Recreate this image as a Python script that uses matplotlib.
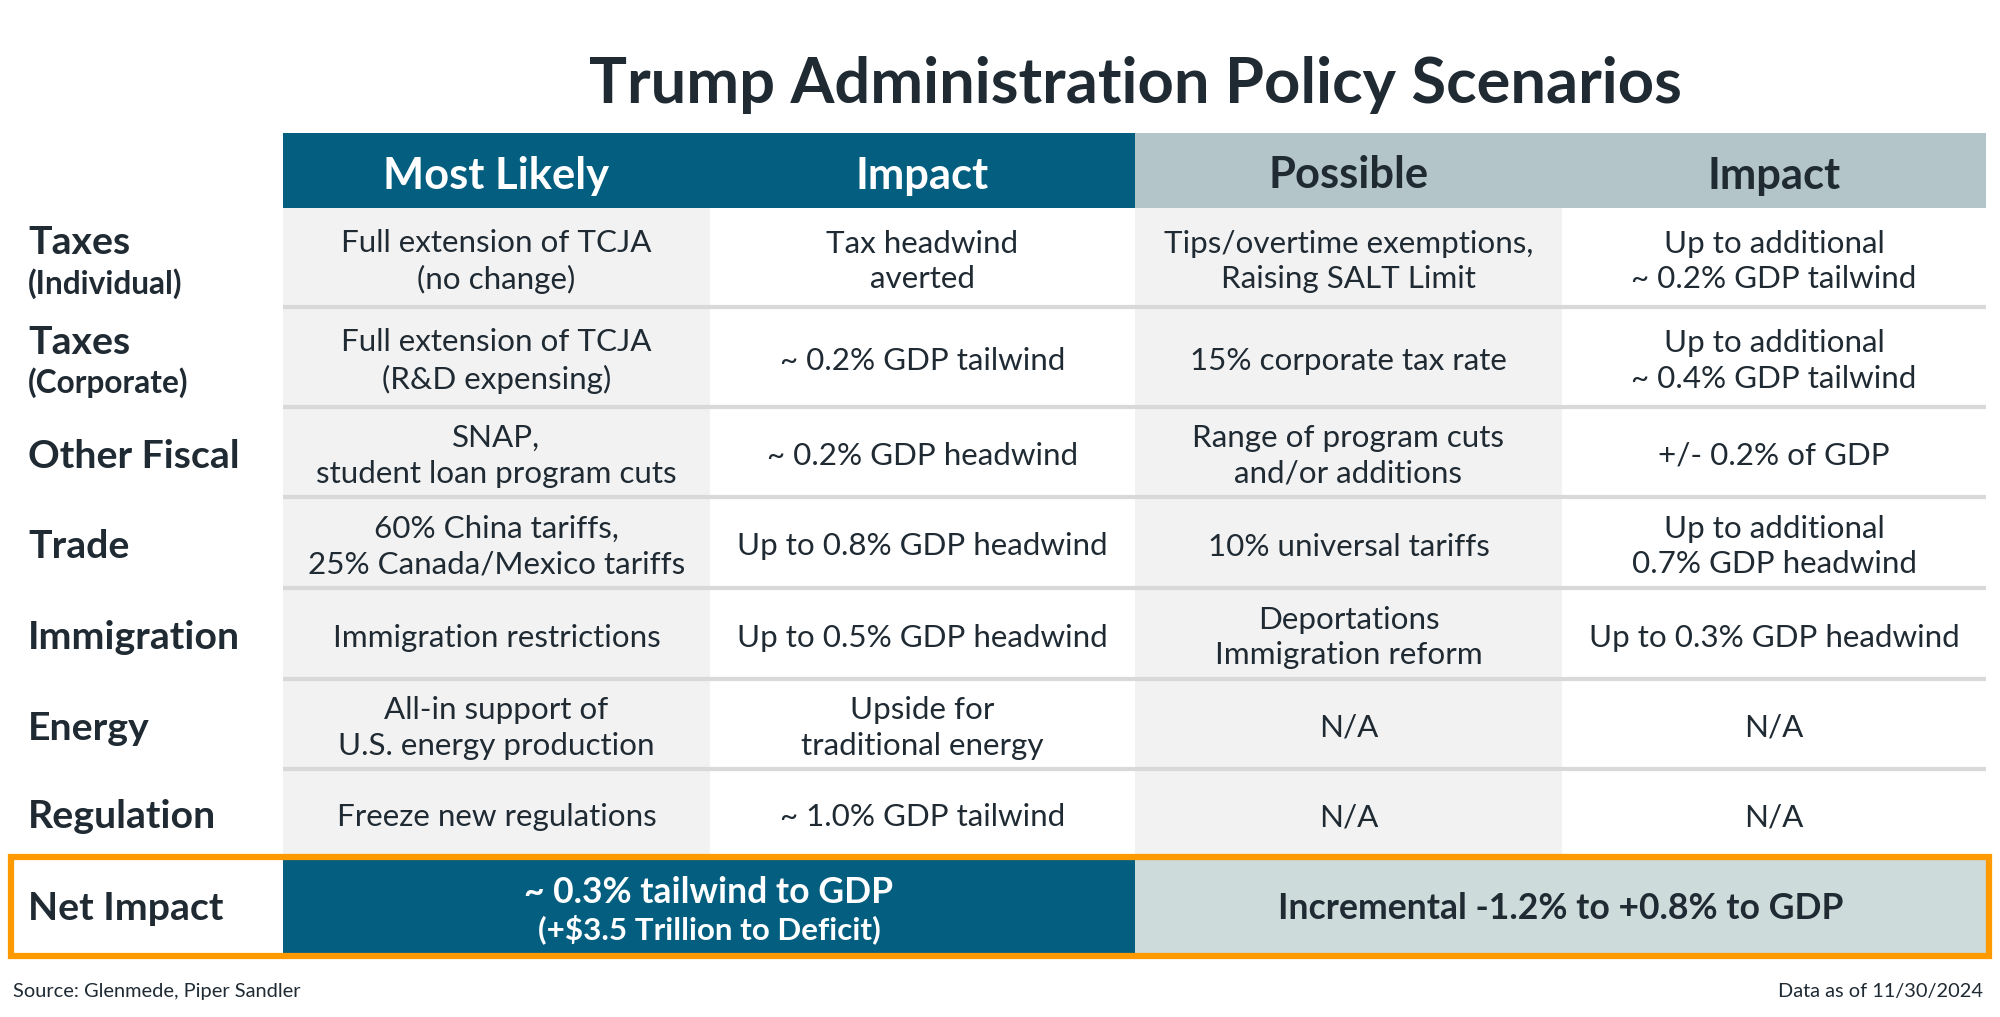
import matplotlib.pyplot as plt
from matplotlib.patches import Rectangle

plt.rcParams['font.family'] = ['Lato', 'DejaVu Sans']

title = "Trump Administration Policy Scenarios"
headers = ["Most Likely", "Impact", "Possible", "Impact"]
row_labels = ["Taxes", "Taxes", "Other Fiscal", "Trade", "Immigration", "Energy", "Regulation"]
row_sublabels = ["(Individual)", "(Corporate)", "", "", "", "", ""]
most_likely = ["Full extension of TCJA\n(no change)",
               "Full extension of TCJA\n(R&D expensing)",
               "SNAP,\nstudent loan program cuts",
               "60% China tariffs,\n25% Canada/Mexico tariffs",
               "Immigration restrictions",
               "All-in support of\nU.S. energy production",
               "Freeze new regulations"]
most_likely_impact = ["Tax headwind\naverted",
                      "~ 0.2% GDP tailwind",
                      "~ 0.2% GDP headwind",
                      "Up to 0.8% GDP headwind",
                      "Up to 0.5% GDP headwind",
                      "Upside for\ntraditional energy",
                      "~ 1.0% GDP tailwind"]
possible = ["Tips/overtime exemptions,\nRaising SALT Limit",
            "15% corporate tax rate",
            "Range of program cuts\nand/or additions",
            "10% universal tariffs",
            "Deportations\nImmigration reform",
            "N/A",
            "N/A"]
possible_impact = ["Up to additional\n~ 0.2% GDP tailwind",
                   "Up to additional\n~ 0.4% GDP tailwind",
                   "+/- 0.2% of GDP",
                   "Up to additional\n0.7% GDP headwind",
                   "Up to 0.3% GDP headwind",
                   "N/A",
                   "N/A"]
net_label = "Net Impact"
net_likely = ["~ 0.3% tailwind to GDP", "(+$3.5 Trillion to Deficit)"]
net_possible = "Incremental -1.2% to +0.8% to GDP"
source = "Source: Glenmede, Piper Sandler"
date_note = "Data as of 11/30/2024"

NAVY = "#045e80"
HEAD_GRAY = "#b4c5c9"
NET_GRAY = "#cddbdb"
CELL_GRAY = "#f2f2f2"
SEP = "#d9d9d9"
DARK = "#1f2a33"
ORANGE = "#ff9900"

fig = plt.figure(figsize=(20, 10.17), dpi=100)
ax = fig.add_axes([0, 0, 1, 1])
ax.set_xlim(0, 2000)
ax.set_ylim(1017, 0)
ax.axis("off")

col_x = [283, 710, 1135, 1562, 1986]
head_top, head_bot = 133, 208
row_y = [208, 307, 407, 497, 588, 679, 769, 857]
net_top, net_bot = 857, 954

ax.text(1135, 85, title, ha="center", va="center", fontsize=45.5,
        fontweight="bold", color=DARK)

# header
for i, h in enumerate(headers):
    fc = NAVY if i < 2 else HEAD_GRAY
    tc = "white" if i < 2 else DARK
    ax.add_patch(Rectangle((col_x[i], head_top), col_x[i + 1] - col_x[i],
                           head_bot - head_top, fc=fc, ec="none"))
    ax.text((col_x[i] + col_x[i + 1]) / 2, (head_top + head_bot) / 2 + 5, h,
            ha="center", va="center", fontsize=31.3, fontweight="bold", color=tc)

# body
columns = [most_likely, most_likely_impact, possible, possible_impact]
for r in range(len(row_labels)):
    y0, y1 = row_y[r], row_y[r + 1]
    yc = (y0 + y1) / 2
    for c, col in enumerate(columns):
        fc = CELL_GRAY if c % 2 == 0 else "white"
        ax.add_patch(Rectangle((col_x[c], y0), col_x[c + 1] - col_x[c],
                               y1 - y0, fc=fc, ec="none"))
        ax.text((col_x[c] + col_x[c + 1]) / 2, yc + 4, col[r], ha="center",
                va="center", fontsize=22.6, color=DARK, linespacing=1.33)
    if r < len(row_labels) - 1:
        ax.plot([col_x[0], col_x[-1]], [y1, y1], color=SEP, lw=3,
                solid_capstyle="butt")
    if row_sublabels[r]:
        ax.text(28, yc - 3, row_labels[r], ha="left", va="baseline",
                fontsize=28.3, fontweight="bold", color=DARK)
        ax.text(28, yc + 36, row_sublabels[r], ha="left", va="baseline",
                fontsize=22.8, fontweight="bold", color=DARK)
    else:
        ax.text(28, yc + 4, row_labels[r], ha="left", va="center",
                fontsize=28.3, fontweight="bold", color=DARK)

# net impact row
ax.add_patch(Rectangle((col_x[0], net_top), col_x[2] - col_x[0],
                       net_bot - net_top, fc=NAVY, ec="none"))
ax.add_patch(Rectangle((col_x[2], net_top), col_x[4] - col_x[2],
                       net_bot - net_top, fc=NET_GRAY, ec="none"))
ax.add_patch(Rectangle((11, 857), 1978, 99, fc="none", ec=ORANGE, lw=4.5))
net_c = (net_top + net_bot) / 2
ax.text(28, net_c + 3, net_label, ha="left", va="center", fontsize=28.3,
        fontweight="bold", color=DARK)
ax.text((col_x[0] + col_x[2]) / 2, net_c - 13, net_likely[0], ha="center",
        va="center", fontsize=25.6, fontweight="bold", color="white")
ax.text((col_x[0] + col_x[2]) / 2, net_c + 24, net_likely[1], ha="center",
        va="center", fontsize=22.6, fontweight="bold", color="white")
ax.text((col_x[2] + col_x[4]) / 2, net_c + 3, net_possible, ha="center",
        va="center", fontsize=25.6, fontweight="bold", color=DARK)

# footer
ax.text(13, 992, source, ha="left", va="center", fontsize=14.4, color=DARK)
ax.text(1983, 992, date_note, ha="right", va="center", fontsize=14.4, color=DARK)

fig.savefig("out.png", dpi=100, facecolor="white")
